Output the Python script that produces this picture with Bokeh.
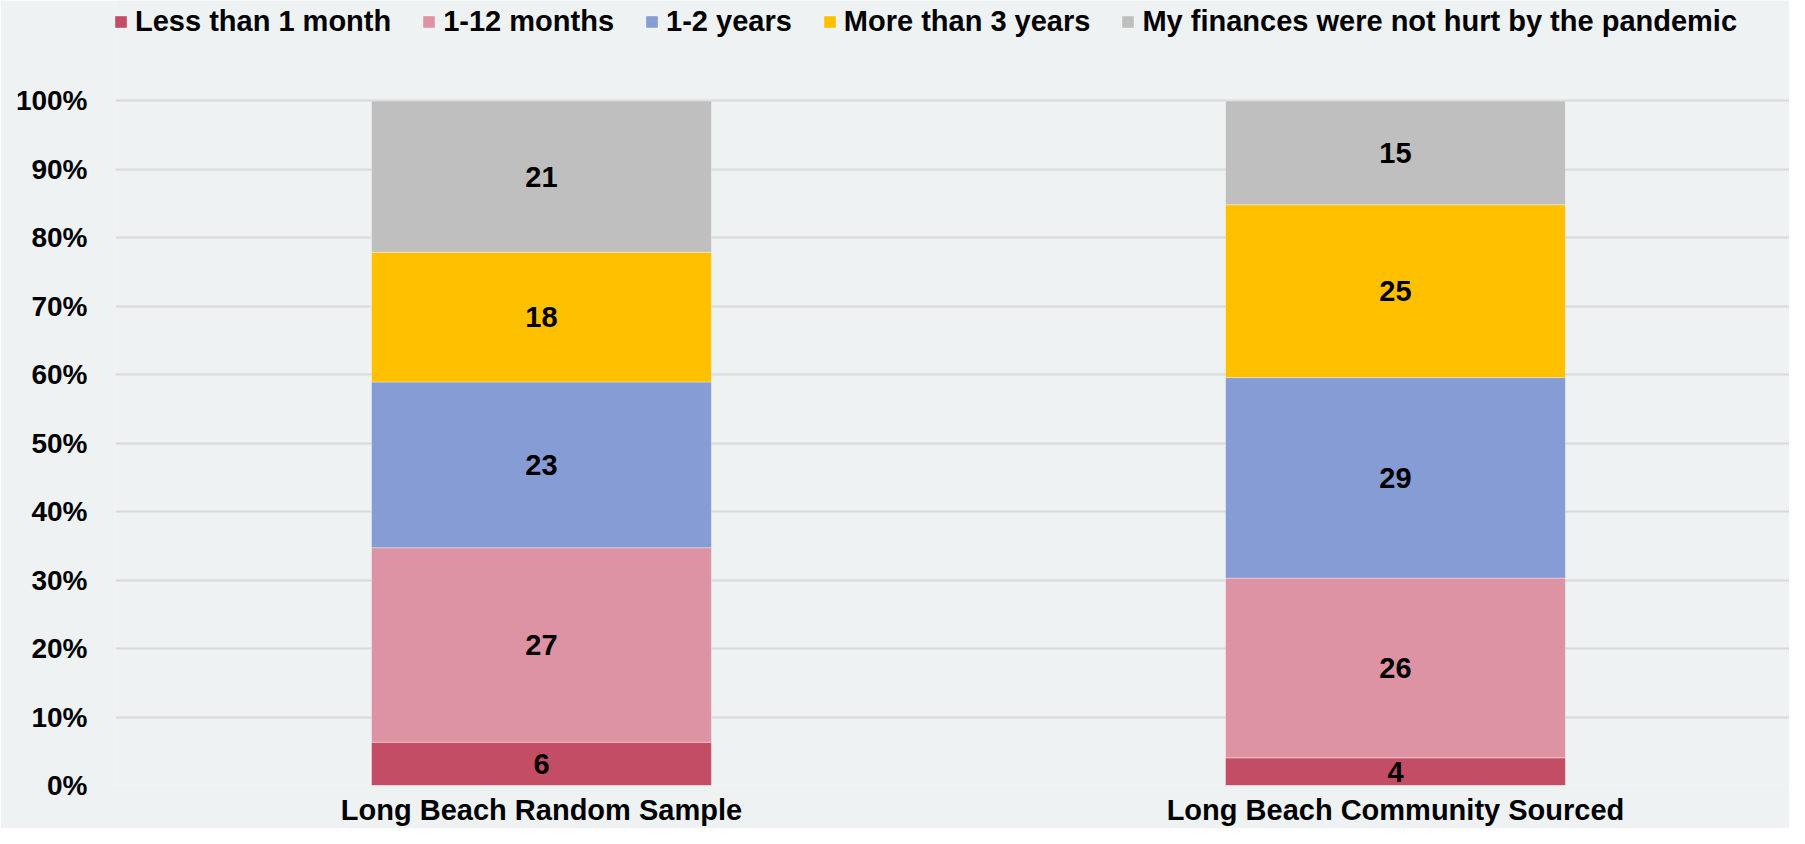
import numpy as np
from bokeh.plotting import figure
from bokeh.models import Range1d, FixedTicker, NumeralTickFormatter, Legend, LegendItem, ColumnDataSource
from bokeh.core.properties import value
from bokeh.embed import file_html
from bokeh.resources import INLINE

# ---- data ----
categories = ["Long Beach Random Sample", "Long Beach Community Sourced"]
series_names = ["Less than 1 month", "1-12 months", "1-2 years", "More than 3 years",
                "My finances were not hurt by the pandemic"]
less_than_1_month = [6, 4]
months_1_12 = [27, 26]
years_1_2 = [23, 29]
more_than_3_years = [18, 25]
not_hurt = [21, 15]
y_ticks = [0.0, 0.1, 0.2, 0.3, 0.4, 0.5, 0.6, 0.7, 0.8, 0.9, 1.0]

colors = ["#C34D65", "#DD93A4", "#859CD5", "#FFC000", "#BFBFBF"]
BG = "#EEF2F3"
FONT = "Liberation Sans"

series = [less_than_1_month, months_1_12, years_1_2, more_than_3_years, not_hurt]
counts = np.array(series, dtype=float)           # shape (5, n_cat)
shares = counts / counts.sum(axis=0)             # 100% stacked
tops = np.cumsum(shares, axis=0)
bottoms = tops - shares
xs = [i + 1 for i in range(len(categories))]

W, H = 1789, 828
BOTTOM = 39
p = figure(width=W, height=H, output_backend="svg", toolbar_location=None,
           x_range=Range1d(0.5012, 2.4614), y_range=Range1d(0, 1.1468),
           min_border_left=115, min_border_right=0, min_border_top=0, min_border_bottom=BOTTOM,
           background_fill_color=BG, border_fill_color=BG, outline_line_color=None)

renderers = []
for k in range(len(series)):
    src = ColumnDataSource(dict(x=xs, top=tops[k], bottom=bottoms[k],
                                mid=(tops[k] + bottoms[k]) / 2,
                                lab=[str(v) for v in series[k]]))
    r = p.vbar(x="x", top="top", bottom="bottom", width=0.398, source=src,
               fill_color=colors[k], line_color="white", line_alpha=0.35, line_width=1)
    renderers.append(r)
    p.text(x="x", y="mid", text="lab", source=src, text_align="center",
           text_baseline="middle", text_font_size="29px", text_font_style="bold",
           text_color="black", text_font=value(FONT))

# axes
p.yaxis.ticker = FixedTicker(ticks=y_ticks)
p.yaxis.formatter = NumeralTickFormatter(format="0%")
p.xaxis.ticker = FixedTicker(ticks=xs)
p.xaxis.major_label_overrides = {x: c for x, c in zip(xs, categories)}
for ax in (p.xaxis[0], p.yaxis[0]):
    ax.axis_line_color = None
    ax.major_tick_line_color = None
    ax.minor_tick_line_color = None
    ax.major_tick_out = 0
    ax.major_tick_in = 0
    ax.major_label_text_font = FONT
    ax.major_label_text_font_style = "bold"
    ax.major_label_text_color = "black"
p.yaxis.major_label_text_font_size = "28px"
p.yaxis.major_label_standoff = 28
p.xaxis.major_label_text_font_size = "29px"
p.xaxis.major_label_standoff = 8

p.xgrid.grid_line_color = None
p.ygrid.ticker = FixedTicker(ticks=y_ticks)
p.ygrid.grid_line_color = "#D9D9D9"
p.ygrid.grid_line_width = 2

legend = Legend(items=[LegendItem(label=n, renderers=[r]) for n, r in zip(series_names, renderers)],
                orientation="horizontal", location=(-2, 747),
                margin=0, padding=0, spacing=30, label_standoff=7,
                glyph_width=15, glyph_height=15,
                label_text_font=FONT, label_text_font_size="29px",
                label_text_font_style="bold", label_text_color="black",
                background_fill_alpha=0, border_line_color=None)
p.add_layout(legend, "center")

open("out.html", "w").write(file_html(p, INLINE))
